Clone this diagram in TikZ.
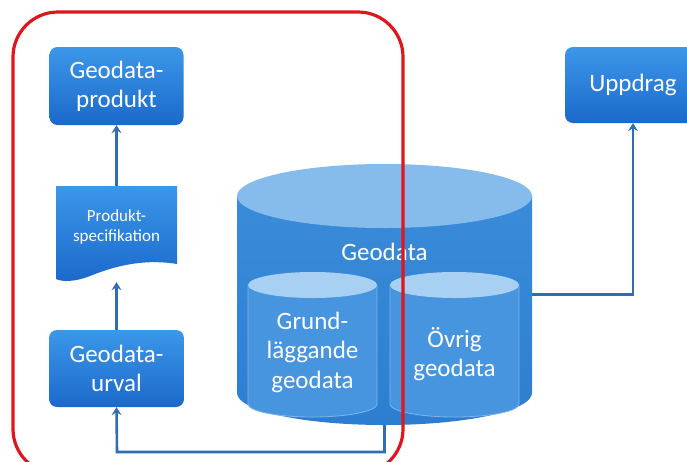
\documentclass[tikz,border=0pt]{standalone}
\usepackage{fontspec}
\setmainfont{Carlito}
\usetikzlibrary{arrows.meta}
\definecolor{boxtop}{HTML}{3C97E8}
\definecolor{boxbot}{HTML}{1B69CB}
\definecolor{cylbody}{HTML}{3A8CDA}
\definecolor{cylbodyd}{HTML}{2D7ED0}
\definecolor{cyltop}{HTML}{86BCEC}
\definecolor{innerbody}{HTML}{4695DE}
\definecolor{innertop}{HTML}{A8D0F2}
\definecolor{inneredge}{HTML}{7DB6EA}
\definecolor{conn}{HTML}{2F6DB5}
\definecolor{redline}{HTML}{E0161E}
\tikzset{
  bluebox/.style={rounded corners=8pt, top color=boxtop, bottom color=boxbot, draw=none,
    text=white, align=center, font=\fontsize{25}{29}\selectfont, inner sep=0pt},
  conline/.style={draw=conn, line width=2.6pt},
  arr/.style={conline, -{Stealth[length=8pt,width=10pt,inset=3pt]}},
  lbl/.style={text=white, align=center, inner sep=0pt},
  ghost/.style={inner sep=0pt, draw=none}
}
\begin{document}
\begin{tikzpicture}[x=1pt,y=-1pt]
\useasboundingbox (0,0) rectangle (687,461);
\clip (0,0) rectangle (687,461);
\fill[white] (0,0) rectangle (687,461);

% boxes
\node[bluebox, minimum width=134pt, minimum height=78pt] (produkt) at (116.5,86) {Geodata-\\produkt};
\node[bluebox, minimum width=135pt, minimum height=77pt] (urval) at (116.5,368.5) {Geodata-\\urval};
\node[bluebox, minimum width=136pt, minimum height=76pt] (upp) at (633,85) {Uppdrag};

% document shape
\node[ghost, minimum width=121pt, minimum height=96pt] (spec) at (116.5,234) {};
\shade[top color=boxtop, bottom color=boxbot]
  (56,186) -- (177,186) -- (177,264)
  .. controls (140,258) and (110,268) .. (90,276)
  .. controls (75,282) and (62,282) .. (56,279) -- cycle;
\node[lbl, font=\fontsize{17}{20}\selectfont] (spectext) at (116.5,227) {Produkt-\\specifikation};

% big cylinder
\node[ghost, minimum width=295pt, minimum height=261pt] (db) at (384.5,294.5) {};
\shade[top color=cylbody, bottom color=cylbodyd]
  (237,196) -- (237,393) arc[start angle=180, end angle=0, x radius=147.5, y radius=32]
  -- (532,196) -- cycle;
\fill[cyltop] (384.5,196) ellipse[x radius=147.5, y radius=32];
\node[lbl, font=\fontsize{25}{29}\selectfont] (geodata) at (384.5,252) {Geodata};

% inner cylinders
\foreach \cx/\nm in {312.5/grund, 454.5/ovrig}{
  \node[ghost, minimum width=129pt, minimum height=145pt] (\nm) at (\cx,344.5) {};
  \filldraw[fill=innerbody, draw=inneredge, line width=0.8pt]
    (\cx-64.5,285) -- (\cx-64.5,404) arc[start angle=180, end angle=0, x radius=64.5, y radius=13]
    -- (\cx+64.5,285) -- cycle;
  \fill[innertop] (\cx,285) ellipse[x radius=64.5, y radius=13];
}
\node[lbl, font=\fontsize{25}{29.5}\selectfont] (grundtext) at (312.5,352) {Grund-\\läggande\\geodata};
\node[lbl, font=\fontsize{25}{28.5}\selectfont] (ovrigtext) at (454.5,354) {Övrig\\geodata};

% connectors
\coordinate (bl) at (117,452);
\draw[arr] (spec.north -| produkt.south) -- (produkt.south);
\draw[arr] (urval.north) -- (urval.north |- spec.south);
\draw[arr] (db.south) -- (db.south |- bl) -- (bl) -- (urval.south);
\draw[arr] (db.east) -| (upp.south);

% red frame
\draw[redline, line width=3.2pt, rounded corners=45pt] (13,12) rectangle (403,474);
\end{tikzpicture}
\end{document}
